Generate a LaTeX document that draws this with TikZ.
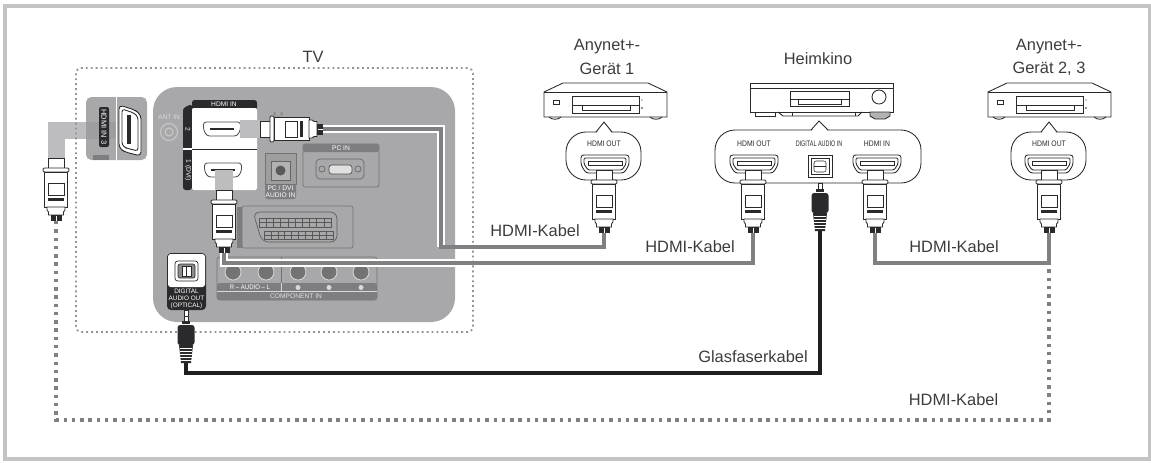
\documentclass[tikz,border=0pt]{standalone}
\usepackage{fontspec}
\setmainfont{Liberation Sans}
\definecolor{panelgray}{HTML}{A8A8AA}
\definecolor{darkband}{HTML}{7E7E81}
\definecolor{cablegray}{HTML}{808083}
\definecolor{bandgray}{HTML}{BDBDBF}
\definecolor{framegray}{HTML}{C4C4C6}
\definecolor{inkdark}{HTML}{2A2A2C}
\definecolor{labelink}{HTML}{3C3C3E}
\newcommand{\lblfont}{\fontsize{12.3}{15}\selectfont}
\newcommand{\portfont}{\fontsize{6}{7}\selectfont}
\newcommand{\tinyfont}{\fontsize{5}{5.8}\selectfont}
\newcommand{\cpr}[2]{\scalebox{#1}[1]{#2}}
\tikzset{
  lbl/.style={text=labelink,inner sep=0pt,font=\lblfont,align=center},
  portlbl/.style={text=inkdark,inner sep=0pt,font=\portfont,align=center},
  paneltxt/.style={text=white,inner sep=0pt,font=\tinyfont,align=center},
  ink/.style={draw=inkdark,line width=0.65pt},
  thinink/.style={draw=inkdark,line width=0.4pt},
  cable/.style={draw=cablegray,line width=2.6pt,line join=miter},
  halo/.style={draw=white,line width=5.6pt,line join=miter},
  optcable/.style={draw=black!88,line width=2.6pt,line join=miter},
  bigdots/.style={draw=cablegray,line width=2.6pt,dash pattern=on 2.6pt off 3.6pt},
  tvdots/.style={draw=black!42,line width=1.4pt,dash pattern=on 1.4pt off 2.3pt},
  hdmiplug/.pic={
    \fill[white,thinink] (-8,0) rectangle (8,11);
    \filldraw[fill=white,ink,rounded corners=1] (-13,10) rectangle (13,14);
    \filldraw[fill=white,ink] (-11.5,14) rectangle (11.5,49);
    \filldraw[fill=white,ink] (-8,25) rectangle (8,37);
    \fill[inkdark] (-8,40) rectangle (8,43);
    \filldraw[fill=white,ink] (-9,49) -- (9,49) -- (9,52) -- (7.5,54) -- (7.5,57) -- (-7.5,57) -- (-7.5,54) -- (-9,52) -- cycle;
    \fill[inkdark] (-5.5,57) rectangle (5.5,63);
    \fill[white] (-0.5,58) rectangle (0.5,63);
    \coordinate (-tail) at (0,63);
  },
  optplug/.pic={
    \filldraw[fill=white,thinink] (-2,0) rectangle (2,6);
    \fill[inkdark] (-4,6) rectangle (4,9);
    \fill[inkdark,rounded corners=2] (-8.5,10) rectangle (8.5,30);
    \fill[inkdark] (-7,30) -- (7,30) -- (5,48) -- (-5,48) -- cycle;
    \foreach \yy in {33,36,39,42,45} \draw[white,line width=0.3pt] (-6,\yy) -- (6,\yy);
    \coordinate (-tail) at (0,48);
  },
  hdmiport/.pic={
    \filldraw[fill=white,ink,rounded corners=2] (-24,0) -- (24,0) -- (24,10) -- (19,18) -- (-19,18) -- (-24,10) -- cycle;
    \draw[ink,rounded corners=1] (-21,3) -- (21,3) -- (21,9) -- (17,15) -- (-17,15) -- (-21,9) -- cycle;
    \draw[ink] (-17,6) rectangle (17,10);
  },
  smallport/.pic={
    \filldraw[fill=white,draw=black!70,line width=0.6pt,rounded corners=2] (-18.5,0) -- (18.5,0) -- (18.5,8) -- (15,14) -- (-15,14) -- (-18.5,8) -- cycle;
    \fill[inkdark] (-12,6) rectangle (12,8);
  },
  optport/.pic={
    \filldraw[fill=white,ink] (-12,0) rectangle (12,22);
    \filldraw[fill=white,ink] (-9,3) rectangle (9,19);
    \filldraw[fill=white,thinink,rounded corners=1.5] (-6,6) rectangle (6,17);
    \draw[thinink] (-6,11) -- (6,11);
  },
  anybox/.pic={
    \filldraw[fill=white,ink] (0,9) -- (19,0) -- (104,0) -- (123,9) -- (123,34) -- (0,34) -- cycle;
    \draw[ink] (0,9) -- (123,9);
    \draw[ink] (5,34) .. controls (8,37) and (14,37) .. (17,34);
    \draw[ink] (106,34) .. controls (109,37) and (115,37) .. (118,34);
    \draw[ink] (9,17) rectangle (15,21);
    \draw[ink] (28,13) rectangle (95,30);
    \draw[ink] (28,22) -- (95,22);
    \draw[ink] (38,22) rectangle (86,27);
    \fill[inkdark] (98,17) circle (0.7) (98,25) circle (0.9);
  },
  anycallout/.pic={
    \filldraw[fill=white,ink,rounded corners=15] (-38,10) rectangle (37,58);
    \fill[white] (-7.5,11) -- (0,1) -- (7.5,11) -- cycle;
    \draw[ink,line join=miter] (-8,10) -- (0,0) -- (8,10);
  },
}
\begin{document}
\begin{tikzpicture}[x=0.75pt,y=-0.75pt]
\useasboundingbox (0,0) rectangle (1151,462);
\draw[framegray,line width=3pt] (5,6) rectangle (1149.5,459);

% left panel with the cable band
\fill[panelgray,rounded corners=4] (86,97) rectangle (147,160);
\fill[bandgray] (48,122) rectangle (86,139);
\fill[bandgray] (48,122) rectangle (65,158);
\fill[black!42,opacity=0.45] (86,122) rectangle (116,139);
\draw[white,line width=0.6pt] (116,97) -- (116,160);
\fill[inkdark,rounded corners=1.5] (99,107) rectangle (109,147);
\node[paneltxt,rotate=-90,font=\fontsize{5.6}{6}\selectfont] (hdmi3lbl) at (104,127) {HDMI IN 3};
\fill[darkband] (93,155) rectangle (109,160);
\filldraw[fill=white,ink,rounded corners=3] (119,105) -- (135,110) -- (141,115) -- (141,156) -- (125,152) -- (119,148) -- cycle;
\draw[ink,rounded corners=2] (122,109) -- (134,113) -- (138,117) -- (138,151) -- (126,148) -- (122,145) -- cycle;
\fill[inkdark] (127,115) rectangle (131,144);

% main panel
\fill[panelgray,rounded corners=18] (153,87) rectangle (455,322);
\node[text=white!85!black,inner sep=0pt,font=\tinyfont] (antlbl) at (169,117) {ANT IN};
\draw[white!80!black,line width=0.7pt] (169,132) circle (8.5) (169,132) circle (4);

% HDMI IN block
\fill[inkdark,rounded corners=2] (183,108) -- (192,104) -- (192,190) -- (183,190) -- cycle;
\fill[inkdark,rounded corners=2] (192,100) rectangle (257,110);
\fill[white,rounded corners=1.5] (192,108) rectangle (257,190);
\draw[white,line width=0.8pt] (183,149) -- (257,149);
\draw[inkdark,line width=0.5pt] (192,149) -- (257,149);
\node[paneltxt] (hdmiinlbl) at (224,104) {HDMI IN};
\node[paneltxt,rotate=-90] (lbl2) at (188,129) {2};
\node[paneltxt,rotate=-90] (lbl1) at (188,170) {1 (DVI)};
\pic (tvport2) at (222,122) {smallport};
\pic (tvport1) at (223,163) {smallport};
\fill[bandgray] (240,120) rectangle (260,138);
\fill[bandgray] (215,170) rectangle (233,190);

% PC/DVI audio
\fill[black!38,rounded corners=2] (265,153) rectangle (296,199);
\fill[darkband,rounded corners=2] (265,184) rectangle (296,199);
\draw[black!55,line width=0.5pt] (265,153) rectangle (296,184);
\draw[black!60,line width=0.5pt,fill=black!30] (271,161) rectangle (290,180);
\fill[black!65] (280.5,170.5) circle (5);
\node[paneltxt] (pcdvilbl) at (280.5,191.5) {PC / DVI\\AUDIO IN};

% PC IN
\draw[black!55,line width=0.5pt,rounded corners=1.5] (303,144) rectangle (379,187);
\fill[darkband,rounded corners=1.5] (303,144) rectangle (379,152);
\node[paneltxt] (pcinlbl) at (341,148) {PC IN};
\draw[black!60,line width=0.5pt,rounded corners=3] (316,159) rectangle (364,179);
\filldraw[fill=black!12,draw=black!70,line width=0.5pt,rounded corners=2] (329,165) rectangle (352,174);
\draw[black!60,line width=0.5pt] (322,169) circle (3) (358,169) circle (3);

% SCART
\fill[darkband] (237,207) rectangle (242,248);
\draw[black!55,line width=0.5pt,rounded corners=1.5] (242,206) rectangle (353,248);
\draw[black!65,line width=0.5pt,rounded corners=5] (253,212) -- (337,212) -- (337,242) -- (262,242) -- cycle;
\draw[black!65,line width=0.5pt] (259,218) rectangle (331,227) (264,231) rectangle (333,239);
\foreach \xx in {266.2,273.4,...,325} \draw[black!65,line width=0.4pt] (\xx,218) -- (\xx,227);
\foreach \xx in {270.9,277.8,...,328} \draw[black!65,line width=0.4pt] (\xx,231) -- (\xx,239);
\draw[black!65,line width=0.4pt] (259,222.5) -- (331,222.5) (264,235) -- (333,235);

% component
\draw[black!55,line width=0.5pt,rounded corners=2] (217,257) rectangle (377,300);
\fill[darkband,rounded corners=2] (217,283) rectangle (377,300);
\draw[white!85!black,line width=0.5pt] (217,291.5) -- (377,291.5) (281,283) -- (281,291);
\draw[black!55,line width=0.5pt] (281,257) -- (281,283);
\foreach \xx in {233,266,298,329,361} {
  \filldraw[fill=black!55,draw=white!85!black,line width=0.6pt] (\xx,272) circle (8);
}
\node[paneltxt] (audiolbl) at (250,287.5) {\cpr{0.9}{R -- AUDIO -- L}};
\fill[white!85!black] (298,287.5) circle (2.5) (329,287.5) circle (2.5) (361,287.5) circle (2.5);
\node[paneltxt,text=white!88!black] (complbl) at (296,296) {COMPONENT IN};

% digital audio out
\fill[inkdark,rounded corners=3] (167,253) rectangle (206,310);
\fill[white,rounded corners=2] (168,254) rectangle (205,287);
\draw[inkdark,line width=0.5pt,rounded corners=2] (175,261) rectangle (198,281);
\filldraw[fill=black!45,draw=inkdark,line width=0.5pt,rounded corners=1.5] (178,264) rectangle (195,278);
\filldraw[fill=white,draw=inkdark,line width=0.4pt] (182,266) rectangle (191,276);
\draw[inkdark,line width=0.4pt] (186.5,266) -- (186.5,276);
\node[paneltxt,font=\fontsize{4.8}{5.3}\selectfont] (optlbl) at (186.5,298.5) {DIGITAL\\AUDIO OUT\\(OPTICAL)};

% headphone icon
\draw[black!45,line width=0.4pt] (274,113) arc[start angle=180,end angle=0,radius=4];
\fill[black!45] (273.5,112) rectangle (275.5,115) (280.5,112) rectangle (282.5,115);

% TV frame
\draw[tvdots,rounded corners=4] (76,68) rectangle (473,332);
\node[lbl] (tvlbl) at (313,57) {TV};

% devices
\pic (dev1) at (544,83) {anybox};
\pic (dev3) at (988,83) {anybox};
\node[lbl] (any1) at (607,47) {Anynet+-};
\node[lbl] (ger1) at (607,69) {Gerät 1};
\node[lbl] (any2) at (1049,47) {Anynet+-};
\node[lbl] (ger2) at (1049,69) {Gerät 2, 3};
\node[lbl] (heim) at (818,59) {Heimkino};

% Heimkino box
\filldraw[fill=white,ink] (750,83) rectangle (893,112);
\draw[ink] (750,88) -- (893,88);
\draw[ink] (790,91) rectangle (849,106);
\draw[ink] (790,99) -- (849,99);
\draw[ink] (798,99) rectangle (841,104);
\draw[ink] (879,97) circle (7);
\draw[ink] (755,112) rectangle (775,116);
\draw[ink] (778,112) -- (783,116) -- (858,116) -- (862,112);
\draw[ink] (792,112) -- (792,116) (855,112) -- (855,116);
\filldraw[fill=black!30,ink] (870,112) -- (890,112) -- (890,116) -- (885,119) -- (875,119) -- (870,116) -- cycle;

% callouts
\pic (call1) at (604,122) {anycallout};
\pic (call3) at (1049,122) {anycallout};
\filldraw[fill=white,ink,rounded corners=15] (715,130) rectangle (921,183);
\fill[white] (811.5,131) -- (819,122) -- (827.5,131) -- cycle;
\draw[ink,line join=miter] (811,130) -- (819,121) -- (828,130);
\node[portlbl] (out1) at (604,144) {\cpr{0.85}{HDMI OUT}};
\node[portlbl] (out2) at (754,144) {\cpr{0.85}{HDMI OUT}};
\node[portlbl] (digin) at (819,144) {\cpr{0.68}{DIGITAL AUDIO IN}};
\node[portlbl] (inh) at (877,144) {\cpr{0.85}{HDMI IN}};
\node[portlbl] (out3) at (1049,144) {\cpr{0.85}{HDMI OUT}};
\pic (port1) at (605,155) {hdmiport};
\pic (port2) at (754,155) {hdmiport};
\pic (port3) at (877,155) {hdmiport};
\pic (port4) at (1049,155) {hdmiport};
\pic (port5) at (820,155) {optport};

% plugs
\pic (plugL) at (56,158) {hdmiplug};
\pic (plugTV1) at (224,190) {hdmiplug};
\pic[rotate=90] (plugTV2) at (260,129) {hdmiplug};
\pic (plugA1) at (604,170) {hdmiplug};
\pic (plugOut) at (753,170) {hdmiplug};
\pic (plugIn) at (875,170) {hdmiplug};
\pic (plugA3) at (1049,170) {hdmiplug};
\pic (optH) at (820,183) {optplug};
\pic (optTV) at (186,315) {optplug};
\draw[inkdark,line width=0.4pt,fill=white] (184,310) rectangle (188,316);

% connector waypoints
\coordinate (wa) at (441,247);
\coordinate (wb) at (753,263);
\coordinate (wc) at (1049,263);
\coordinate (wd) at (875,263);
\coordinate (we) at (186,373);
\coordinate (wf) at (56,420);
\coordinate (wg) at (1049,420);

% halos inside the panel
\begin{scope}
\clip[rounded corners=18] (153,87) rectangle (455,322);
\draw[halo] (plugTV2-tail) -| (wa);
\draw[halo] (plugTV1-tail) |- (wb);
\end{scope}

% cables
\draw[bigdots] (plugL-tail) -- (wf) -- (wg) -- (wc);
\draw[cable] (plugTV2-tail) -| (wa) -| (plugA1-tail);
\draw[cable] (plugTV1-tail) |- (wb) -- (plugOut-tail);
\draw[cable] (plugIn-tail) |- (wc) -- (plugA3-tail);
\draw[optcable] (optTV-tail) |- (we) -| (optH-tail);

\node[lbl] (k1) at (535,231) {HDMI-Kabel};
\node[lbl] (k2) at (690,247) {HDMI-Kabel};
\node[lbl] (k3) at (954,247) {HDMI-Kabel};
\node[lbl] (glas) at (753,357) {Glasfaserkabel};
\node[lbl] (k4) at (953.5,400) {HDMI-Kabel};
\end{tikzpicture}
\end{document}
